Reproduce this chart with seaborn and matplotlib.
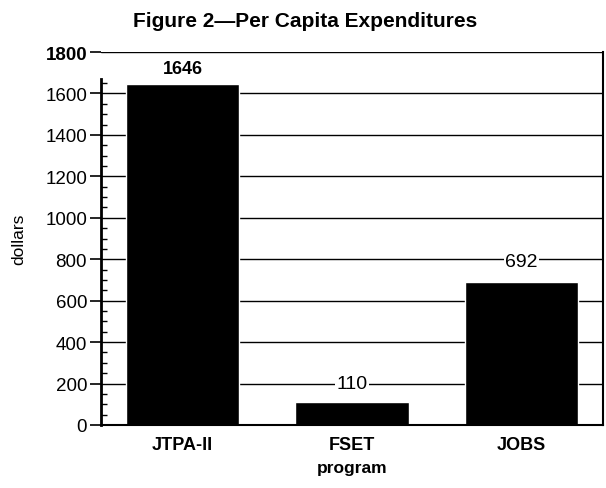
import matplotlib
matplotlib.use("Agg")
import matplotlib.pyplot as plt
import seaborn as sns
import pandas as pd
from matplotlib.ticker import FixedLocator

programs = ["JTPA-II", "FSET", "JOBS"]
dollars = [1646, 110, 692]
bar_labels = ["1646", "110", "692"]
y_ticks = [0, 200, 400, 600, 800, 1000, 1200, 1400, 1600, 1800]

sns.set_theme(style="white")
plt.rcParams["font.family"] = ["Liberation Sans", "DejaVu Sans"]
plt.rcParams["text.color"] = "black"
plt.rcParams["axes.labelcolor"] = "black"
plt.rcParams["xtick.color"] = "black"
plt.rcParams["ytick.color"] = "black"

df = pd.DataFrame({"program": programs, "dollars": dollars})

fig = plt.figure(figsize=(6.06, 4.89), dpi=100)
ax = fig.add_axes([101/606, (489-426)/489, (603-101)/606, (426-53)/489])

# gridlines
for t in y_ticks[1:]:
    ax.axhline(t, color="black", lw=1.0, zorder=0)

sns.barplot(data=df, x="program", y="dollars", color="black", saturation=1,
            width=0.67, ax=ax, zorder=2)

ax.set_xlim(-0.48, 2.48)
ax.set_ylim(0, 1800)
ax.set_yticks(y_ticks)
ax.set_yticklabels([str(t) for t in y_ticks], fontsize=13.5)
ax.get_yticklabels()[-1].set_fontweight("bold")
minor = [m for m in range(50, 1651, 50) if m % 200 != 0]
ax.yaxis.set_minor_locator(FixedLocator(minor))
ax.tick_params(axis="y", which="major", direction="out", length=8, width=1.2,
               left=True, pad=2)
ax.tick_params(axis="y", which="minor", direction="in", length=4, width=1,
               left=True)
ax.tick_params(axis="x", length=0, pad=8)
for lab in ax.get_xticklabels():
    lab.set_fontweight("bold")
    lab.set_fontsize(13)

ax.set_xlabel("program", fontsize=12.5, fontweight="bold", labelpad=5)
ax.set_ylabel("dollars", fontsize=12.5, labelpad=14)

for s in ["left", "bottom", "right"]:
    ax.spines[s].set_visible(True)
    ax.spines[s].set_color("black")
ax.spines["top"].set_visible(False)
ax.spines["left"].set_linewidth(2)
ax.spines["left"].set_bounds(0, 1670)
ax.spines["bottom"].set_linewidth(1.5)
ax.spines["right"].set_linewidth(1.5)

offsets = [75, 90, 95]
weights = ["bold", "normal", "normal"]
sizes = [13, 14, 14]
for i, (v, lab) in enumerate(zip(dollars, bar_labels)):
    ax.text(i, v + offsets[i], lab, ha="center", va="center", fontsize=sizes[i],
            fontweight=weights[i], zorder=3,
            bbox=dict(facecolor="white", edgecolor="none", pad=1))

fig.text(0.503, 0.956, "Figure 2\u2014Per Capita Expenditures", ha="center",
         va="center", fontsize=15, fontweight="bold")

fig.savefig("out.png", dpi=100)
